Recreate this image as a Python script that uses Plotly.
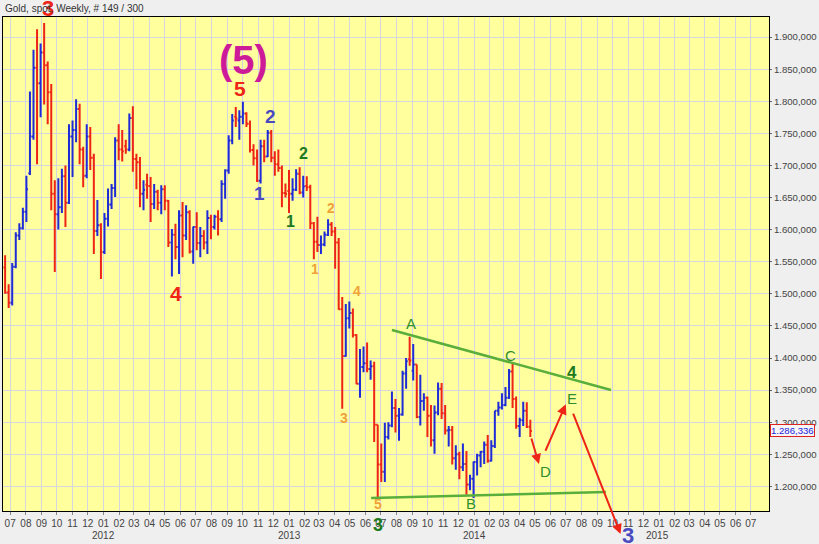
import pandas as pd
import plotly.graph_objects as go

# ---------------- data (weekly gold spot) ----------------
week_start = "2011-06-21"
open_ = [1541, 1502, 1486, 1542, 1591, 1602, 1628, 1688, 1745, 1852, 1828, 1876, 1856, 1814, 1656, 1624,
         1635, 1683, 1642, 1745, 1755, 1788, 1725, 1684, 1745, 1712, 1598, 1607,
         1565, 1617, 1639, 1665, 1739, 1725, 1730, 1725, 1774, 1710, 1705, 1656, 1670, 1668, 1640, 1659,
         1642, 1663, 1645, 1580, 1592, 1573, 1622, 1591, 1627, 1566, 1604, 1579, 1590, 1580, 1618, 1604,
         1620, 1616, 1671, 1692, 1739, 1776, 1770, 1776, 1781, 1765, 1724, 1711, 1676, 1730, 1714, 1751,
         1712, 1702, 1696, 1657, 1660,
         1656, 1662, 1687, 1658, 1668, 1666, 1610, 1581, 1576, 1577, 1592, 1608, 1597, 1580, 1476, 1403,
         1462, 1470, 1436, 1360, 1386, 1392, 1383, 1387, 1296, 1234, 1223, 1277, 1295, 1322, 1310, 1312,
         1376, 1398, 1380, 1390, 1308, 1333, 1338, 1310, 1272, 1315, 1352, 1314, 1287, 1288, 1244, 1250,
         1230, 1235, 1203, 1212,
         1238, 1248, 1254, 1265, 1240, 1263, 1318, 1323, 1327, 1338, 1379, 1336, 1294, 1303, 1318, 1293]
high = [1560, 1515, 1548, 1596, 1610, 1634, 1684, 1815, 1880, 1912, 1890, 1922, 1862, 1827, 1677, 1680,
        1695, 1700, 1764, 1770, 1803, 1796, 1729, 1764, 1760, 1718, 1646, 1610,
        1626, 1664, 1671, 1744, 1764, 1755, 1740, 1781, 1792, 1718, 1713, 1677, 1687, 1682, 1671, 1662,
        1669, 1669, 1646, 1601, 1609, 1630, 1643, 1638, 1630, 1605, 1627, 1604, 1599, 1630, 1623, 1623,
        1630, 1677, 1694, 1747, 1780, 1791, 1786, 1799, 1783, 1770, 1733, 1725, 1740, 1740, 1755, 1755,
        1722, 1725, 1700, 1672, 1693,
        1680, 1694, 1697, 1684, 1683, 1670, 1612, 1620, 1591, 1597, 1616, 1612, 1604, 1587, 1495, 1484,
        1488, 1477, 1437, 1414, 1418, 1424, 1396, 1394, 1296, 1267, 1299, 1300, 1348, 1336, 1322, 1380,
        1400, 1433, 1422, 1390, 1374, 1345, 1340, 1327, 1326, 1362, 1361, 1327, 1294, 1294, 1264, 1254,
        1267, 1255, 1218, 1239,
        1251, 1255, 1270, 1280, 1272, 1318, 1332, 1345, 1355, 1383, 1392, 1340, 1307, 1332, 1331, 1304]
low = [1500, 1478, 1482, 1540, 1584, 1600, 1612, 1685, 1740, 1702, 1775, 1795, 1764, 1630, 1534, 1600,
       1626, 1604, 1640, 1682, 1736, 1702, 1666, 1680, 1693, 1562, 1590, 1523,
       1562, 1605, 1632, 1651, 1708, 1706, 1718, 1722, 1690, 1663, 1635, 1630, 1648, 1612, 1632, 1630,
       1624, 1630, 1573, 1527, 1554, 1531, 1557, 1584, 1563, 1547, 1568, 1557, 1569, 1562, 1585, 1600,
       1591, 1612, 1648, 1687, 1733, 1760, 1740, 1764, 1760, 1720, 1700, 1674, 1672, 1705, 1713, 1705,
       1684, 1690, 1635, 1650, 1626,
       1645, 1660, 1655, 1650, 1660, 1601, 1554, 1565, 1562, 1574, 1590, 1590, 1539, 1475, 1321, 1402,
       1446, 1432, 1359, 1338, 1378, 1378, 1366, 1269, 1180, 1207, 1207, 1273, 1292, 1284, 1271, 1310,
       1352, 1388, 1365, 1306, 1295, 1318, 1277, 1262, 1251, 1311, 1305, 1281, 1262, 1234, 1226, 1211,
       1224, 1187, 1194, 1182,
       1217, 1230, 1235, 1237, 1239, 1260, 1310, 1320, 1325, 1336, 1322, 1290, 1277, 1294, 1291, 1277]
close = [1502, 1486, 1542, 1591, 1602, 1628, 1663, 1745, 1852, 1828, 1876, 1856, 1814, 1656, 1624, 1635,
         1683, 1642, 1745, 1755, 1788, 1725, 1684, 1745, 1712, 1598, 1607, 1565,
         1617, 1639, 1665, 1739, 1725, 1722, 1725, 1774, 1710, 1705, 1656, 1662, 1668, 1640, 1659, 1642,
         1663, 1645, 1580, 1592, 1573, 1622, 1591, 1627, 1566, 1604, 1579, 1590, 1580, 1618, 1604, 1620,
         1616, 1671, 1692, 1739, 1770, 1773, 1776, 1781, 1765, 1724, 1711, 1676, 1730, 1714, 1751, 1712,
         1702, 1696, 1657, 1656, 1656,
         1662, 1687, 1658, 1667, 1666, 1610, 1581, 1576, 1577, 1592, 1608, 1597, 1580, 1476, 1403, 1462,
         1470, 1436, 1360, 1386, 1392, 1383, 1387, 1296, 1234, 1223, 1277, 1295, 1322, 1310, 1312, 1376,
         1395, 1396, 1390, 1308, 1333, 1338, 1310, 1272, 1315, 1352, 1314, 1287, 1288, 1244, 1250, 1230,
         1235, 1203, 1212, 1238,
         1248, 1254, 1265, 1240, 1263, 1318, 1323, 1327, 1338, 1379, 1336, 1294, 1303, 1318, 1293, 1286.336]
last_price = 1286.336

month_ticks = pd.date_range("2011-07-01", "2015-07-01", freq="MS")
month_labels = [d.strftime("%m") for d in month_ticks]
year_labels = ["2012", "2013", "2014", "2015"]
year_pos = ["2012-01-01", "2013-01-01", "2014-01-01", "2014-12-29"]

dates = pd.date_range(week_start, periods=len(close), freq="7D")

# ---------------- style ----------------
BLUE = "#1f2bd6"
RED = "#ee2416"
FONT = "Liberation Sans, Arial, sans-serif"
GREEN_LINE = "#5aae3c"
LBL_GREEN = "#2f8f2f"
DK_GREEN = "#1e7a1e"
ORANGE = "#f0a23a"
SLATE = "#4a4ac0"
MAGENTA = "#cc1a99"

fig = go.Figure()
fig.add_trace(go.Ohlc(
    x=dates, open=open_, high=high, low=low, close=close,
    increasing=dict(line=dict(color=BLUE, width=2)),
    decreasing=dict(line=dict(color=RED, width=2)),
    tickwidth=0.45, showlegend=False, hoverinfo="skip",
))

# trend lines of the triangle
fig.add_shape(type="line", xref="x", yref="y", x0="2013-07-23", y0=1443.6, x1="2014-09-28", y1=1350.2,
              line=dict(color=GREEN_LINE, width=2.5))
fig.add_shape(type="line", xref="x", yref="y", x0="2013-06-12", y0=1182, x1="2014-09-18", y1=1191.3,
              line=dict(color=GREEN_LINE, width=2.5))

ann = []


def lab(text, x, y, color, size, bold=True, yref="y"):
    t = f"<b>{text}</b>" if bold else text
    ann.append(dict(text=t, x=x, y=y, xref="x", yref=yref, showarrow=False,
                    xanchor="center", yanchor="middle",
                    font=dict(family=FONT, size=size, color=color)))


lab("3", "2011-09-13", 1.0162, RED, 22, yref="paper")
lab("(5)", "2012-10-03", 1864, MAGENTA, 40)
lab("5", "2012-09-27", 1820, RED, 21)
lab("2", "2012-11-25", 1776, SLATE, 19)
lab("1", "2012-11-04", 1657, SLATE, 19)
lab("2", "2013-01-30", 1718, DK_GREEN, 16)
lab("1", "2013-01-03", 1613, DK_GREEN, 16)
lab("2", "2013-03-25", 1634, ORANGE, 14)
lab("1", "2013-02-21", 1538, ORANGE, 14)
lab("4", "2013-05-16", 1505, ORANGE, 14)
lab("3", "2013-04-20", 1307, ORANGE, 14)
lab("4", "2012-05-24", 1501, RED, 21)
lab("A", "2013-08-29", 1453, LBL_GREEN, 15, bold=False)
lab("C", "2014-03-14", 1404, LBL_GREEN, 15, bold=False)
lab("4", "2014-07-14", 1378, DK_GREEN, 17)
lab("E", "2014-07-14", 1337, LBL_GREEN, 15, bold=False)
lab("D", "2014-05-22", 1223, LBL_GREEN, 15, bold=False)
lab("B", "2013-12-26", 1173, LBL_GREEN, 15, bold=False)
lab("5", "2013-06-25", 1172, ORANGE, 14)
lab("3", "2013-06-25", -0.0283, DK_GREEN, 18, yref="paper")
lab("3", "2014-10-31", -0.0506, SLATE, 22, yref="paper")

# projected path arrows
arrow = dict(showarrow=True, arrowhead=2, arrowsize=1, arrowwidth=2, arrowcolor=RED, text="",
             axref="pixel", ayref="pixel", xref="x")
ann.append(dict(arrow, x="2014-05-09", y=1235, yref="y", ax=-8, ay=-27))
ann.append(dict(arrow, x="2014-07-01", y=1328, yref="y", ax=-21, ay=48))
ann.append(dict(arrow, x="2014-10-17", y=-0.0466, yref="paper", ax=-48, ay=-122))

# year labels
for t, p in zip(year_labels, year_pos):
    ann.append(dict(text=t, x=p, y=-0.049, xref="x", yref="paper", showarrow=False,
                    xanchor="center", yanchor="middle",
                    font=dict(family=FONT, size=10, color="#444444")))

# title
ann.append(dict(text="Gold, spot, Weekly, # 149 / 300", x=0, y=1.018, xref="paper", yref="paper",
                xanchor="left", yanchor="middle", showarrow=False,
                font=dict(family=FONT, size=10, color="#333333")))

# last price box
ann.append(dict(text="1.286,336", x=1, y=last_price, xref="paper", yref="y", xanchor="left",
                yanchor="middle", xshift=1, showarrow=False, bordercolor="#dd2222", borderwidth=1,
                borderpad=0, bgcolor="#f6f6f6", font=dict(family=FONT, size=9.6, color="#2222dd")))

fig.update_layout(
    width=819, height=544,
    margin=dict(l=2, r=47, t=17, b=33),
    paper_bgcolor="#efefef", plot_bgcolor="#ffff9e",
    separators=",.",
    font=dict(family=FONT, size=10, color="#333333"),
    annotations=ann,
    xaxis=dict(
        type="date", range=["2011-06-16 20:00", "2015-08-05 19:00"],
        tickvals=month_ticks, ticktext=month_labels, tickangle=0,
        showgrid=True, gridcolor="#d6d6e0", gridwidth=1,
        showline=True, linecolor="#000000", linewidth=1, mirror=True,
        ticks="outside", ticklen=3, tickcolor="#888888",
        tickfont=dict(family=FONT, size=10, color="#444444"),
        rangeslider=dict(visible=False), zeroline=False, fixedrange=True,
    ),
    yaxis=dict(
        side="right", range=[1161.7, 1931.2], dtick=50, tick0=1200,
        tickformat=",.3f",
        showgrid=True, gridcolor="#d6d6e0", gridwidth=1,
        showline=True, linecolor="#000000", linewidth=1, mirror=True,
        ticks="outside", ticklen=2, tickcolor="#666666",
        tickfont=dict(family=FONT, size=9.6, color="#444444"),
        zeroline=False, fixedrange=True,
    ),
)

fig.write_html("out.html", config={"displayModeBar": False},
               post_script="document.body.style.margin='0';document.body.style.overflow='hidden';")
